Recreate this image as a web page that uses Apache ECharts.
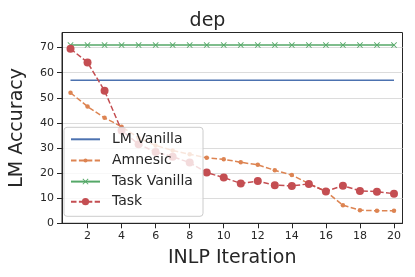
<!DOCTYPE html>
<html>
<head>
<meta charset="utf-8">
<script src="https://cdn.jsdelivr.net/npm/echarts@6/dist/echarts.min.js"></script>
<style>html,body{margin:0;padding:0;background:#fff}#c{width:415px;height:277px}</style>
</head>
<body>
<div id="c"></div>
<script>
const iterations = [1,2,3,4,5,6,7,8,9,10,11,12,13,14,15,16,17,18,19,20];
const lmVanilla = [57,57,57,57,57,57,57,57,57,57,57,57,57,57,57,57,57,57,57,57];
const amnesic = [52,46.5,42,38.5,34,31,29,27.5,26.1,25.5,24.3,23.3,21.1,19.2,15.8,12.7,7.2,5.2,5,5];
const taskVanilla = [71,71,71,71,71,71,71,71,71,71,71,71,71,71,71,71,71,71,71,71];
const task = [69.5,64.1,52.8,37,31.5,28.4,26.5,24.2,20.2,18.2,15.9,16.8,15.2,14.9,15.7,12.7,15,12.9,12.6,11.8];
const xTicks = [2,4,6,8,10,12,14,16,18,20];
const yTicks = [0,10,20,30,40,50,60,70];
const seriesNames = ['LM Vanilla','Amnesic','Task Vanilla','Task'];

const pairs = arr => iterations.map((x,i)=>[x,arr[i]]);
const FONT = 'DejaVu Sans';
const INK = '#262626';
const xPath = 'path://M0,1 L1,0 L5,4 L9,0 L10,1 L6,5 L10,9 L9,10 L5,6 L1,10 L0,9 L4,5 Z';

// legend rows: centre y of each row, icon height (symbol = 0.8 * height)
const legendRowY = [139.3, 160.6, 181.6, 201.7];
const legendIconH = [9, 5, 7.5, 9];

const legends = seriesNames.map((name, i) => ({
  orient:'vertical', left:70, top:legendRowY[i] - 7, z:20,
  data:[i === 0 ? {name:name, itemStyle:{opacity:0}} : {name:name}],
  itemWidth:29, itemHeight:legendIconH[i], itemGap:0, padding:0,
  selectedMode:false,
  textStyle:{fontFamily:FONT,fontSize:14,color:INK,padding:[0,0,0,7]}
}));

const chart = echarts.init(document.getElementById('c'), null, {renderer:'canvas'});
chart.setOption({
  animation:false,
  backgroundColor:'#fff',
  title:{text:'dep', left:'center', top:7, textStyle:{fontFamily:FONT,fontSize:19,fontWeight:'normal',color:INK}},
  grid:{left:57, right:12.5, top:32.5, bottom:53.7, show:true, borderColor:INK, borderWidth:1, backgroundColor:'transparent'},
  graphic:[{
    type:'rect', z:15, shape:{x:64, y:127.3, width:139, height:89, r:3},
    style:{fill:'rgba(255,255,255,0.8)', stroke:'#cccccc', lineWidth:1}
  }],
  legend:legends,
  xAxis:{
    type:'value', min:0.5, max:20.5,
    name:'INLP Iteration', nameLocation:'middle', nameGap:25,
    nameTextStyle:{fontFamily:FONT,fontSize:19,color:INK},
    axisLine:{show:true,lineStyle:{color:INK,width:1}},
    axisTick:{show:true,inside:false,length:5,lineStyle:{color:INK},customValues:xTicks},
    axisLabel:{fontFamily:FONT,fontSize:11,color:INK,margin:7,customValues:xTicks},
    splitLine:{show:false}
  },
  yAxis:{
    type:'value', min:0, max:76, interval:10,
    name:'LM Accuracy', nameLocation:'middle', nameGap:35,
    nameTextStyle:{fontFamily:FONT,fontSize:19,color:INK},
    axisLine:{show:true,lineStyle:{color:INK,width:1}},
    axisTick:{show:true,inside:false,length:5,lineStyle:{color:INK},customValues:yTicks},
    axisLabel:{fontFamily:FONT,fontSize:11,color:INK,margin:8,customValues:yTicks},
    splitLine:{show:true,lineStyle:{color:'#dcdcdc',width:1}}
  },
  series:[
    {name:'LM Vanilla', type:'line', data:pairs(lmVanilla), symbol:'none', showSymbol:false,
     lineStyle:{color:'#4C72B0',width:1.5}, itemStyle:{color:'#4C72B0'}, z:2},
    {name:'Amnesic', type:'line', data:pairs(amnesic), symbol:'circle', symbolSize:4.5,
     lineStyle:{color:'#DD8452',width:1.5,type:[5.5,2.4]}, itemStyle:{color:'#DD8452'}, z:2},
    {name:'Task Vanilla', type:'line', data:pairs(taskVanilla), symbol:xPath, symbolSize:6,
     lineStyle:{color:'#55A868',width:1.5}, itemStyle:{color:'#55A868'}, z:2},
    {name:'Task', type:'line', data:pairs(task), symbol:'circle', symbolSize:8,
     lineStyle:{color:'#C44E52',width:1.5,type:[5.5,2.4]}, itemStyle:{color:'#C44E52'}, z:2}
  ]
});
</script>
</body>
</html>
